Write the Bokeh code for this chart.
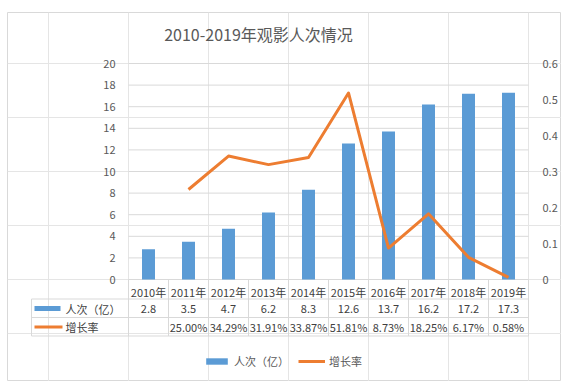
from bokeh.plotting import figure
from bokeh.models import (LinearAxis, Range1d, FixedTicker, Legend, LegendItem,
                          Label, ColumnDataSource)
from bokeh.embed import file_html
from bokeh.resources import INLINE
from bokeh.core.properties import value

# ---------------- data ----------------
title_text = "2010-2019年观影人次情况"
years = ["2010年", "2011年", "2012年", "2013年", "2014年",
         "2015年", "2016年", "2017年", "2018年", "2019年"]
viewers = [2.8, 3.5, 4.7, 6.2, 8.3, 12.6, 13.7, 16.2, 17.2, 17.3]
growth = [None, 0.25, 0.3429, 0.3191, 0.3387, 0.5181, 0.0873, 0.1825, 0.0617, 0.0058]
left_ticks = [0, 2, 4, 6, 8, 10, 12, 14, 16, 18, 20]
right_ticks = [0, 0.1, 0.2, 0.3, 0.4, 0.5, 0.6]
bar_label = "人次（亿）"
line_label = "增长率"

# ---------------- layout (page pixels) ----------------
FONT = "Noto Sans CJK SC"
BLUE = "#5B9BD5"
ORANGE = "#ED7D31"
GRID = "#d9d9d9"
TXT = "#595959"
ORIGIN = 0                      # page position of the canvas
F_LEFT, F_TOP, F_RIGHT, F_BOTTOM = 7, 12, 561, 381
PL, PR, PT, PB = 128, 528, 63, 279

n = len(years)
cat_px = (PR - PL) / n
ymax = left_ticks[-1]
ppu = (PB - PT) / ymax
rate_scale = right_ticks[-1] / ymax


def dx(px):
    return (px - PL) / cat_px


def dy(py):
    return (PB - py) / ppu


p = figure(width=F_RIGHT - ORIGIN, height=F_BOTTOM - ORIGIN, output_backend="svg",
           toolbar_location=None, x_axis_location=None, y_axis_location=None,
           x_range=Range1d(dx(F_LEFT), dx(F_RIGHT)),
           y_range=Range1d(dy(F_BOTTOM), dy(F_TOP)),
           min_border_left=F_LEFT - ORIGIN, min_border_right=0, min_border_bottom=0,
           min_border_top=F_TOP - ORIGIN)
p.extra_y_ranges = {"rate": Range1d(dy(F_BOTTOM) * rate_scale, dy(F_TOP) * rate_scale)}
p.outline_line_color = GRID
p.background_fill_color = "white"
p.border_fill_color = "white"

# gridlines across the plot area only
p.segment(x0=[0] * len(left_ticks), x1=[n] * len(left_ticks), y0=left_ticks, y1=left_ticks,
          line_color=GRID, line_width=1)

centers = [i + 0.5 for i in range(n)]
bars = p.vbar(x=centers, top=viewers, width=0.325, fill_color=BLUE, line_color=None)

gx = [c for c, g in zip(centers, growth) if g is not None]
gy = [g for g in growth if g is not None]
line = p.line(x=gx, y=gy, y_range_name="rate", line_color=ORANGE, line_width=3,
              line_join="round")

# axes (drawn inside the frame)
ax_left = LinearAxis(fixed_location=0, ticker=FixedTicker(ticks=left_ticks),
                     axis_line_color=None, major_tick_line_color=None,
                     minor_tick_line_color=None, major_label_standoff=7,
                     major_label_text_font=FONT, major_label_text_font_size="11px",
                     major_label_text_color=TXT)
p.add_layout(ax_left, "left")

ax_right = LinearAxis(y_range_name="rate", fixed_location=n,
                      ticker=FixedTicker(ticks=right_ticks),
                      major_label_overrides={t: str(t) for t in right_ticks},
                      axis_line_color=None, major_tick_line_color=None,
                      minor_tick_line_color=None, major_label_standoff=8,
                      major_label_text_font=FONT, major_label_text_font_size="11px",
                      major_label_text_color=TXT)
p.add_layout(ax_right, "right")

ax_bottom = LinearAxis(fixed_location=0, ticker=FixedTicker(ticks=centers),
                       major_label_overrides={c: y for c, y in zip(centers, years)},
                       axis_line_color=None, major_tick_line_color=None,
                       minor_tick_line_color=None, major_tick_out=0, major_tick_in=0,
                       major_label_standoff=4,
                       major_label_text_font=FONT, major_label_text_font_size="11px",
                       major_label_text_color="#404040")
p.add_layout(ax_bottom, "below")

# ---------------- data table ----------------
row_lines_py = [298.5, 317, 335.5]
row_centers_py = [308, 326.5]
tbl_left = dx(31)
hy = [dy(v) for v in row_lines_py]
p.segment(x0=[tbl_left] * 3, x1=[n] * 3, y0=hy, y1=hy, line_color=GRID, line_width=1)
vx = list(range(n + 1))
p.segment(x0=vx, x1=vx, y0=[0] * len(vx), y1=[hy[-1]] * len(vx), line_color=GRID, line_width=1)
p.segment(x0=[tbl_left], x1=[tbl_left], y0=[hy[0]], y1=[hy[-1]], line_color=GRID, line_width=1)

viewer_txt = [str(v) for v in viewers]
growth_txt = ["" if g is None else f"{g * 100:.2f}%" for g in growth]
tsrc = ColumnDataSource(dict(
    x=centers + centers,
    y=[dy(row_centers_py[0])] * n + [dy(row_centers_py[1])] * n,
    t=viewer_txt + growth_txt))
p.text(x="x", y="y", text="t", source=tsrc, text_align="center", text_baseline="middle",
       text_font=value(FONT), text_font_size="11px", text_color="#404040")

# row headers with keys
p.rect(x=[dx(47)], y=[dy(row_centers_py[0])], width=26 / cat_px, height=5,
       height_units="screen", fill_color=BLUE, line_color=None)
p.segment(x0=[dx(34)], x1=[dx(62)], y0=[dy(row_centers_py[1])], y1=[dy(row_centers_py[1])],
          line_color=ORANGE, line_width=3)
p.text(x=[dx(65), dx(65)], y=[dy(row_centers_py[0]), dy(row_centers_py[1])],
       text=[bar_label, line_label], text_align="left", text_baseline="middle",
       text_font=value(FONT), text_font_size="11px", text_color="#404040")

# ---------------- title ----------------
p.add_layout(Label(x=dx(258), y=dy(33), text=title_text, text_align="center",
                   text_baseline="middle", text_font=FONT, text_font_size="16px",
                   text_color=TXT))

# ---------------- legend ----------------
legend = Legend(items=[LegendItem(label=bar_label, renderers=[bars]),
                       LegendItem(label=line_label, renderers=[line])],
                orientation="horizontal", location=(203 - F_LEFT, F_BOTTOM - 369),
                border_line_color=None, background_fill_alpha=0, padding=0, margin=0,
                spacing=9, glyph_width=27, glyph_height=8, label_standoff=4,
                label_height=12, label_text_font=FONT, label_text_font_size="11px",
                label_text_color=TXT)
p.add_layout(legend, "center")

open("out.html", "w").write(file_html(p, INLINE))
